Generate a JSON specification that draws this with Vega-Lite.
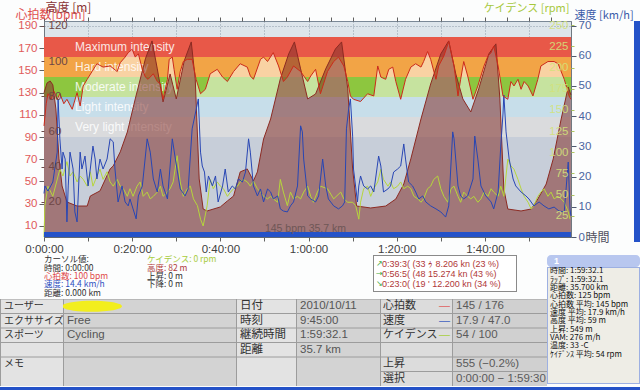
{
"$schema": "https://vega.github.io/schema/vega-lite/v6.json",
"background": "#fcfdfd",
"padding": 0,
"bounds": "full",
"spacing": 0,
"config": {"view": {"stroke": null}, "text": {"font": "Noto Sans CJK JP"}},
"resolve": {"scale": {"color": "independent"}},
"datasets": {
"one": [{}],
"zones": [{"zone":"Maximum intensity","lo":162,"hi":180},{"zone":"Hard intensity","lo":144,"hi":162},{"zone":"Moderate intensity","lo":126,"hi":144},{"zone":"Light intensity","lo":108,"hi":126},{"zone":"Very light intensity","lo":90,"hi":108},{"zone":"Resting","lo":0,"hi":90}],
"selection": [{"start":0,"end":119.5}],
"summary": [{"text":"145 bpm 35.7 km"}],
"alt": [{"t":0,"v":82},{"t":0.7,"v":87.6},{"t":1.4,"v":88.7},{"t":2.0,"v":86.5},{"t":2.7,"v":72.8},{"t":3.4,"v":44.4},{"t":4.1,"v":29.0},{"t":5.2,"v":19.9},{"t":7.5,"v":17.6},{"t":9.8,"v":17.6},{"t":10.5,"v":23.3},{"t":12.7,"v":26.2},{"t":15.0,"v":38.7},{"t":15.7,"v":40.4},{"t":17.3,"v":48.4},{"t":18.9,"v":59.7},{"t":20.7,"v":78.5},{"t":23.0,"v":101.3},{"t":24.5,"v":111.5},{"t":25.7,"v":95.6},{"t":27.0,"v":76.8},{"t":28.6,"v":92.7},{"t":30.0,"v":78.5},{"t":31.8,"v":100.1},{"t":33.4,"v":110.9},{"t":34.3,"v":89.9},{"t":35.2,"v":33.0},{"t":36.1,"v":15.9},{"t":37.0,"v":14.8},{"t":40.0,"v":17.1},{"t":41.6,"v":20.5},{"t":43.0,"v":23.3},{"t":44.5,"v":37.0},{"t":46.1,"v":38.7},{"t":47.5,"v":31.9},{"t":48.4,"v":37.0},{"t":49.8,"v":55.7},{"t":51.4,"v":67.1},{"t":53.6,"v":89.9},{"t":55.5,"v":104.1},{"t":56.8,"v":110.9},{"t":58.2,"v":95.6},{"t":59.8,"v":78.5},{"t":61.6,"v":81.3},{"t":63.9,"v":95.6},{"t":66.1,"v":106.9},{"t":67.5,"v":110.9},{"t":68.9,"v":84.2},{"t":70.0,"v":38.7},{"t":70.9,"v":17.6},{"t":74.1,"v":16.5},{"t":77.5,"v":17.6},{"t":79.8,"v":21.6},{"t":81.6,"v":30.1},{"t":83.2,"v":44.4},{"t":85.5,"v":67.1},{"t":87.7,"v":87.0},{"t":90.0,"v":104.1},{"t":91.8,"v":111.5},{"t":93.4,"v":92.7},{"t":95.0,"v":78.5},{"t":96.8,"v":71.1},{"t":98.6,"v":84.2},{"t":100.9,"v":104.1},{"t":102.5,"v":109.8},{"t":103.4,"v":78.5},{"t":104.3,"v":27.3},{"t":105.2,"v":15.9},{"t":108.2,"v":14.8},{"t":110.5,"v":15.9},{"t":112.0,"v":21.6},{"t":113.9,"v":30.1},{"t":115.5,"v":44.4},{"t":117.3,"v":67.1},{"t":118.9,"v":85.3},{"t":119.5,"v":80.8}],
"hr": [{"t":0,"v":100},{"t":0.5,"v":120},{"t":0.9,"v":129},{"t":1.6,"v":124},{"t":2.3,"v":131},{"t":3.0,"v":124},{"t":3.6,"v":129},{"t":4.5,"v":120},{"t":5.2,"v":124},{"t":6.4,"v":115},{"t":7.5,"v":130},{"t":8.2,"v":118},{"t":8.9,"v":136},{"t":9.8,"v":142},{"t":10.9,"v":149},{"t":12.0,"v":156},{"t":13.4,"v":153},{"t":15.0,"v":154},{"t":16.6,"v":149},{"t":17.3,"v":157},{"t":18.4,"v":162},{"t":19.1,"v":166},{"t":20.0,"v":169},{"t":20.7,"v":162},{"t":21.4,"v":165},{"t":22.3,"v":151},{"t":23.0,"v":144},{"t":23.6,"v":142},{"t":24.8,"v":147},{"t":25.7,"v":140},{"t":26.4,"v":138},{"t":27.0,"v":124},{"t":28.0,"v":142},{"t":28.4,"v":160},{"t":29.1,"v":162},{"t":29.5,"v":151},{"t":30.2,"v":133},{"t":30.9,"v":149},{"t":31.6,"v":158},{"t":32.5,"v":160},{"t":33.6,"v":160},{"t":34.5,"v":142},{"t":35.5,"v":129},{"t":36.6,"v":133},{"t":37.7,"v":147},{"t":39.3,"v":151},{"t":40.5,"v":144},{"t":41.6,"v":140},{"t":43.0,"v":149},{"t":44.5,"v":156},{"t":46.1,"v":153},{"t":46.8,"v":145},{"t":47.5,"v":142},{"t":49.1,"v":160},{"t":49.8,"v":162},{"t":50.7,"v":158},{"t":52.0,"v":166},{"t":53.2,"v":154},{"t":54.3,"v":140},{"t":55.2,"v":144},{"t":56.6,"v":154},{"t":58.2,"v":149},{"t":59.8,"v":140},{"t":60.5,"v":145},{"t":61.6,"v":151},{"t":62.7,"v":129},{"t":64.3,"v":149},{"t":65.7,"v":158},{"t":66.8,"v":162},{"t":68.0,"v":154},{"t":68.9,"v":140},{"t":69.5,"v":127},{"t":70.2,"v":124},{"t":71.8,"v":122},{"t":73.4,"v":129},{"t":74.8,"v":127},{"t":75.7,"v":154},{"t":76.4,"v":144},{"t":77.5,"v":142},{"t":78.2,"v":151},{"t":79.1,"v":153},{"t":79.8,"v":140},{"t":80.9,"v":124},{"t":82.0,"v":142},{"t":83.2,"v":153},{"t":84.3,"v":156},{"t":85.5,"v":153},{"t":86.1,"v":158},{"t":87.0,"v":167},{"t":87.7,"v":160},{"t":88.9,"v":142},{"t":89.5,"v":154},{"t":90.7,"v":163},{"t":91.8,"v":176},{"t":93.0,"v":154},{"t":93.9,"v":127},{"t":94.5,"v":142},{"t":95.2,"v":158},{"t":96.1,"v":145},{"t":97.3,"v":124},{"t":98.4,"v":136},{"t":99.8,"v":154},{"t":100.7,"v":163},{"t":101.4,"v":166},{"t":102.0,"v":172},{"t":103.0,"v":154},{"t":104.1,"v":127},{"t":105.2,"v":124},{"t":105.9,"v":140},{"t":106.6,"v":136},{"t":107.5,"v":142},{"t":108.2,"v":133},{"t":108.9,"v":140},{"t":109.8,"v":136},{"t":110.9,"v":127},{"t":112.0,"v":142},{"t":112.7,"v":154},{"t":114.3,"v":158},{"t":115.7,"v":158},{"t":116.6,"v":156},{"t":118.0,"v":142},{"t":119.1,"v":127},{"t":119.5,"v":124}],
"spd": [{"t":0,"v":14.4},{"t":0.2,"v":16.9},{"t":0.9,"v":15.2},{"t":2.0,"v":18.2},{"t":3.0,"v":28.1},{"t":3.2,"v":45.7},{"t":3.6,"v":32.5},{"t":4.1,"v":22.5},{"t":4.3,"v":28.1},{"t":4.8,"v":25.8},{"t":5.2,"v":5.0},{"t":5.5,"v":16.9},{"t":5.9,"v":28.1},{"t":6.6,"v":22.5},{"t":7.0,"v":8.3},{"t":7.5,"v":5.0},{"t":8.2,"v":28.1},{"t":8.6,"v":22.5},{"t":9.3,"v":26.8},{"t":10.0,"v":16.9},{"t":10.5,"v":22.5},{"t":11.1,"v":30.1},{"t":11.6,"v":25.8},{"t":12.0,"v":19.2},{"t":12.7,"v":25.8},{"t":13.4,"v":22.5},{"t":14.3,"v":25.8},{"t":15.0,"v":32.5},{"t":15.7,"v":31.5},{"t":16.1,"v":22.5},{"t":16.8,"v":11.6},{"t":17.7,"v":16.9},{"t":18.4,"v":11.6},{"t":19.1,"v":10.3},{"t":19.5,"v":12.6},{"t":20.2,"v":9.3},{"t":20.9,"v":6.0},{"t":21.4,"v":13.6},{"t":22.3,"v":16.9},{"t":23.4,"v":32.5},{"t":24.1,"v":28.1},{"t":24.8,"v":19.2},{"t":25.7,"v":14.9},{"t":26.4,"v":22.5},{"t":27.0,"v":16.9},{"t":28.0,"v":12.6},{"t":29.1,"v":32.5},{"t":29.8,"v":25.8},{"t":30.9,"v":15.9},{"t":32.0,"v":13.6},{"t":32.7,"v":15.9},{"t":33.6,"v":35.8},{"t":34.3,"v":40.7},{"t":35.0,"v":45.7},{"t":35.5,"v":28.1},{"t":35.9,"v":23.5},{"t":36.4,"v":21.5},{"t":36.8,"v":14.9},{"t":37.3,"v":20.2},{"t":38.2,"v":16.9},{"t":38.9,"v":20.2},{"t":39.5,"v":11.6},{"t":40.5,"v":16.9},{"t":41.1,"v":22.5},{"t":41.8,"v":14.9},{"t":42.7,"v":16.9},{"t":43.4,"v":15.9},{"t":44.1,"v":19.2},{"t":45.0,"v":18.2},{"t":45.7,"v":21.5},{"t":46.4,"v":32.5},{"t":46.8,"v":28.1},{"t":47.5,"v":16.9},{"t":48.4,"v":13.6},{"t":49.1,"v":15.9},{"t":49.8,"v":11.6},{"t":50.7,"v":15.9},{"t":51.4,"v":14.9},{"t":52.0,"v":12.6},{"t":53.0,"v":13.6},{"t":53.6,"v":9.3},{"t":54.3,"v":8.6},{"t":55.2,"v":8.3},{"t":55.9,"v":10.3},{"t":56.6,"v":11.6},{"t":57.5,"v":16.9},{"t":58.2,"v":36.8},{"t":58.6,"v":34.8},{"t":58.9,"v":25.8},{"t":59.8,"v":13.6},{"t":60.5,"v":12.6},{"t":61.6,"v":11.6},{"t":62.3,"v":13.6},{"t":63.2,"v":25.8},{"t":63.9,"v":16.9},{"t":64.5,"v":12.6},{"t":65.7,"v":10.3},{"t":66.8,"v":9.3},{"t":67.7,"v":10.3},{"t":68.2,"v":11.6},{"t":68.6,"v":35.8},{"t":69.1,"v":42.4},{"t":69.5,"v":45.7},{"t":70.0,"v":33.4},{"t":70.2,"v":22.5},{"t":71.1,"v":11.6},{"t":71.4,"v":16.9},{"t":71.8,"v":20.2},{"t":72.5,"v":16.9},{"t":73.4,"v":15.9},{"t":74.1,"v":16.9},{"t":74.8,"v":14.9},{"t":75.9,"v":26.8},{"t":76.4,"v":23.5},{"t":77.0,"v":14.9},{"t":78.0,"v":15.9},{"t":78.6,"v":16.9},{"t":79.3,"v":21.5},{"t":80.2,"v":22.5},{"t":80.9,"v":23.5},{"t":81.6,"v":30.8},{"t":82.0,"v":25.8},{"t":82.7,"v":18.2},{"t":83.6,"v":16.9},{"t":84.3,"v":14.9},{"t":85.0,"v":12.6},{"t":85.9,"v":13.6},{"t":86.6,"v":11.6},{"t":87.7,"v":10.3},{"t":88.9,"v":9.3},{"t":90.0,"v":8.3},{"t":91.1,"v":6.6},{"t":91.8,"v":10.3},{"t":92.7,"v":34.8},{"t":93.0,"v":32.5},{"t":93.9,"v":16.9},{"t":94.5,"v":13.6},{"t":95.2,"v":12.6},{"t":96.1,"v":13.6},{"t":97.3,"v":19.2},{"t":97.7,"v":33.4},{"t":98.4,"v":25.8},{"t":99.1,"v":16.9},{"t":100.2,"v":13.6},{"t":101.4,"v":11.6},{"t":102.0,"v":9.3},{"t":103.0,"v":14.9},{"t":103.6,"v":30.1},{"t":104.1,"v":40.7},{"t":104.3,"v":47.0},{"t":104.8,"v":34.8},{"t":105.5,"v":25.8},{"t":106.4,"v":19.2},{"t":107.0,"v":16.9},{"t":108.2,"v":14.9},{"t":109.3,"v":13.6},{"t":110.0,"v":12.6},{"t":111.1,"v":10.3},{"t":112.3,"v":11.6},{"t":113.4,"v":10.3},{"t":114.5,"v":9.3},{"t":115.7,"v":9.9},{"t":116.8,"v":8.6},{"t":118.0,"v":8.3},{"t":118.9,"v":24.8},{"t":119.3,"v":9.3},{"t":119.5,"v":7.0}],
"cad": [{"t":0,"v":0},{"t":0.2,"v":37},{"t":0.9,"v":60},{"t":2.0,"v":48},{"t":3.6,"v":80},{"t":4.3,"v":72},{"t":5.2,"v":89},{"t":5.9,"v":72},{"t":6.6,"v":77},{"t":7.5,"v":65},{"t":8.2,"v":72},{"t":8.9,"v":68},{"t":9.8,"v":60},{"t":10.5,"v":77},{"t":11.1,"v":60},{"t":12.0,"v":72},{"t":12.7,"v":80},{"t":13.4,"v":68},{"t":14.3,"v":77},{"t":15.0,"v":65},{"t":15.7,"v":60},{"t":16.6,"v":68},{"t":17.3,"v":60},{"t":18.0,"v":57},{"t":18.9,"v":48},{"t":19.5,"v":57},{"t":20.2,"v":48},{"t":21.1,"v":60},{"t":21.8,"v":65},{"t":22.5,"v":48},{"t":23.4,"v":53},{"t":24.1,"v":45},{"t":24.8,"v":48},{"t":25.7,"v":53},{"t":26.4,"v":60},{"t":27.0,"v":48},{"t":28.0,"v":53},{"t":28.6,"v":57},{"t":29.3,"v":65},{"t":30.2,"v":96},{"t":30.9,"v":65},{"t":31.6,"v":48},{"t":32.5,"v":57},{"t":33.2,"v":60},{"t":33.9,"v":45},{"t":34.8,"v":37},{"t":35.5,"v":21},{"t":36.1,"v":13},{"t":37.0,"v":37},{"t":37.7,"v":68},{"t":38.4,"v":57},{"t":39.3,"v":65},{"t":40.0,"v":60},{"t":40.7,"v":57},{"t":41.6,"v":48},{"t":42.3,"v":53},{"t":43.0,"v":57},{"t":43.9,"v":60},{"t":44.5,"v":65},{"t":45.2,"v":68},{"t":46.1,"v":65},{"t":46.8,"v":60},{"t":47.5,"v":66},{"t":48.4,"v":57},{"t":49.1,"v":53},{"t":49.8,"v":48},{"t":50.7,"v":45},{"t":51.4,"v":48},{"t":52.0,"v":45},{"t":53.0,"v":41},{"t":53.6,"v":68},{"t":54.3,"v":53},{"t":55.2,"v":37},{"t":55.9,"v":53},{"t":56.6,"v":45},{"t":57.5,"v":48},{"t":58.2,"v":45},{"t":58.9,"v":53},{"t":59.8,"v":60},{"t":60.5,"v":48},{"t":61.1,"v":41},{"t":62.0,"v":53},{"t":62.7,"v":60},{"t":64.3,"v":57},{"t":65.7,"v":45},{"t":67.3,"v":53},{"t":68.0,"v":45},{"t":68.9,"v":41},{"t":70.0,"v":41},{"t":70.7,"v":37},{"t":71.4,"v":21},{"t":71.8,"v":41},{"t":72.5,"v":57},{"t":73.4,"v":60},{"t":74.1,"v":48},{"t":74.8,"v":57},{"t":75.7,"v":65},{"t":76.4,"v":80},{"t":77.0,"v":68},{"t":78.0,"v":60},{"t":78.6,"v":65},{"t":79.3,"v":57},{"t":80.2,"v":60},{"t":80.9,"v":65},{"t":81.6,"v":57},{"t":82.5,"v":60},{"t":83.2,"v":57},{"t":83.9,"v":48},{"t":84.8,"v":45},{"t":85.5,"v":41},{"t":86.1,"v":45},{"t":87.0,"v":57},{"t":87.7,"v":60},{"t":88.4,"v":68},{"t":89.3,"v":72},{"t":90.0,"v":57},{"t":90.7,"v":48},{"t":91.6,"v":41},{"t":92.3,"v":57},{"t":93.0,"v":60},{"t":93.9,"v":48},{"t":94.5,"v":41},{"t":95.2,"v":53},{"t":96.1,"v":48},{"t":96.8,"v":45},{"t":97.5,"v":48},{"t":98.4,"v":41},{"t":99.1,"v":45},{"t":99.8,"v":53},{"t":100.7,"v":48},{"t":101.4,"v":57},{"t":102.0,"v":53},{"t":103.0,"v":48},{"t":103.6,"v":60},{"t":104.3,"v":48},{"t":105.2,"v":92},{"t":105.9,"v":84},{"t":106.6,"v":80},{"t":107.5,"v":68},{"t":108.2,"v":57},{"t":108.9,"v":48},{"t":109.8,"v":41},{"t":110.5,"v":33},{"t":111.1,"v":37},{"t":112.0,"v":48},{"t":112.7,"v":53},{"t":113.4,"v":57},{"t":114.3,"v":48},{"t":115.0,"v":53},{"t":115.7,"v":45},{"t":116.6,"v":48},{"t":117.3,"v":45},{"t":118.0,"v":41},{"t":118.9,"v":30},{"t":119.3,"v":21}],
"cursor": [{"c":"a","l":1,"text":"カーソル値:","s":"plain"},{"c":"a","l":2,"text":"時間: 0:00:00","s":"plain"},{"c":"a","l":3,"text":"心拍数: 100 bpm","s":"hr"},{"c":"a","l":4,"text":"速度: 14.4 km/h","s":"speed"},{"c":"a","l":5,"text":"距離: 0.000 km","s":"plain"},{"c":"b","l":1,"text":"ケイデンス: 0 rpm","s":"cadence"},{"c":"b","l":2,"text":"高度: 82 m","s":"altitude"},{"c":"b","l":3,"text":"上昇: 0 m","s":"plain"},{"c":"b","l":4,"text":"下降: 0 m","s":"plain"}],
"laps": [{"c":"a","l":1,"dir":"↗","text":"0:39:3( (33 ｩ 8.206 kn (23 %)"},{"c":"a","l":2,"dir":"→","text":"0:56:5( (48  15.274 kn (43 %)"},{"c":"a","l":3,"dir":"↘","text":"0:23:0( (19 ' 12.200 kn (34 %)"}],
"table": [{"col":"A","row":1,"text":"ユーザー"},{"col":"A","row":2,"text":"エクササイズ"},{"col":"A","row":3,"text":"スポーツ"},{"col":"A","row":5,"text":"メモ"},{"col":"B","row":1,"text":""},{"col":"B","row":2,"text":"Free"},{"col":"B","row":3,"text":"Cycling"},{"col":"C","row":1,"text":"日付"},{"col":"C","row":2,"text":"時刻"},{"col":"C","row":3,"text":"継続時間"},{"col":"C","row":4,"text":"距離"},{"col":"D","row":1,"text":"2010/10/11"},{"col":"D","row":2,"text":"9:45:00"},{"col":"D","row":3,"text":"1:59:32.1"},{"col":"D","row":4,"text":"35.7 km"},{"col":"E","row":1,"text":"心拍数"},{"col":"E","row":2,"text":"速度"},{"col":"E","row":3,"text":"ケイデンス"},{"col":"E","row":5,"text":"上昇"},{"col":"E","row":6,"text":"選択"},{"col":"F","row":1,"text":"—","s":"hr"},{"col":"F","row":2,"text":"—","s":"speed"},{"col":"F","row":3,"text":"—","s":"cadence"},{"col":"G","row":1,"text":"145 / 176"},{"col":"G","row":2,"text":"17.9 / 47.0"},{"col":"G","row":3,"text":"54 / 100"},{"col":"G","row":5,"text":"555 (−0.2%)"},{"col":"G","row":6,"text":"0:00:00 − 1:59:30 ("}],
"seps": [{"row":1},{"row":2},{"row":3},{"row":4},{"row":5},{"row":6}],
"tiptitle": [{"c":"a","text":"1"}],
"tip": [{"c":"a","l":1,"text":"時間: 1:59:32.1"},{"c":"a","l":2,"text":"ﾗｯﾌﾟ: 1:59:32.1"},{"c":"a","l":3,"text":"距離:  35.700 km"},{"c":"a","l":4,"text":"心拍数: 125 bpm"},{"c":"a","l":5,"text":"心拍数 平均:  145 bpm"},{"c":"a","l":6,"text":"速度 平均:  17.9 km/h"},{"c":"a","l":7,"text":"高度 平均:  59 m"},{"c":"a","l":8,"text":"上昇:  549 m"},{"c":"a","l":9,"text":"VAM:  276 m/h"},{"c":"a","l":10,"text":"温度:  33 -C"},{"c":"a","l":11,"text":"ｹｲﾃﾞﾝｽ 平均:  54 rpm"}]
},
"vconcat": [
{"hconcat": [
  {"data":{"name":"one"},"width":44,"height":216,"mark":{"type":"point","opacity":0},"encoding":{}},
  {"width":527,"height":216,
   "view":{"fill":"#dde5eb","stroke":"#7a8896"},
   "layer":[
    {"data":{"name":"zones"},"mark":{"type":"rect"},"encoding":{
      "y":{"field":"lo","type":"quantitative","scale":{"domain":[0,194.5],"nice":false},"axis":null},
      "y2":{"field":"hi"},
      "color":{"field":"zone","type":"nominal","legend":null,"scale":{"domain":["Maximum intensity","Hard intensity","Moderate intensity","Light intensity","Very light intensity","Resting"],"range":["#e85848","#f2a446","#8dc63f","#8fbcd4","#b4b6ba","#8e9db2"]}}}},
    {"data":{"name":"zones"},"transform":[{"filter":"datum.zone !== 'Resting'"}],
     "mark":{"type":"text","align":"left","baseline":"middle","dy":10,"font":"Liberation Sans","fontSize":12,"color":"#ffffff","opacity":0.85},
     "encoding":{"x":{"datum":7.05,"type":"quantitative","axis":null},
      "y":{"field":"hi","type":"quantitative","scale":{"domain":[0,194.5],"nice":false},"axis":null},
      "text":{"field":"zone"}}},
    {"data":{"name":"hr"},"mark":{"type":"area","color":"#ffffff","opacity":0.5},"encoding":{
      "x":{"field":"t","type":"quantitative","scale":{"domain":[0,119.53],"nice":false,"zero":false},
        "axis":{"values":[0,10,20,30,40,50,60,70,80,90,100,110],"labelExpr":"datum.value % 20 === 0 ? floor(datum.value / 60) + ':' + (datum.value % 60 < 10 ? '0' : '') + (datum.value % 60) + ':00' : ''","grid":true,"gridColor":"#7a8a9a","gridDash":[1,2],"gridOpacity":0.8,"tickSize":4,"tickColor":"#606060","domainColor":"#606870","labelFont":"Liberation Sans","labelFontSize":11.5,"labelColor":"#404040","labelPadding":2,"labelFlush":false,"labelOverlap":false,"title":"時間","titleFont":"Noto Sans CJK JP","titleFontSize":12,"titleFontWeight":"normal","titleColor":"#505060","titleAlign":"left","titleBaseline":"middle","titleAngle":0,"titleX":541,"titleY":0}},
      "y":{"field":"v","type":"quantitative","scale":{"domain":[0,194.5],"nice":false},
        "axis":{"orient":"left","values":[10,30,50,70,90,110,130,150,170,190],"labelColor":"#e05a5a","labelFont":"Liberation Sans","labelFontSize":11.5,"labelPadding":2,"tickSize":5,"tickColor":"#606060","domainColor":"#707880","labelOverlap":false,"grid":true,"gridColor":"#7a8a9a","gridDash":[1,2],"gridOpacity":0.8,"title":"心拍数[bpm]","titleColor":"#e05050","titleFont":"Noto Sans CJK JP","titleFontSize":12,"titleFontWeight":"normal","titleAngle":0,"titleAlign":"left","titleBaseline":"alphabetic","titleX":-29,"titleY":-3}}}},
    {"data":{"name":"alt"},"mark":{"type":"area","color":"#82302a","opacity":0.55},"encoding":{
      "x":{"field":"t","type":"quantitative","axis":null},
      "y":{"field":"v","type":"quantitative","scale":{"domain":[0,122.8],"nice":false},
        "axis":{"orient":"left","zindex":1,"values":[20,40,60,80,100,120],"labelAlign":"left","labelPadding":-7,"tickSize":3,"tickColor":"#6a4a4a","labelColor":"#6e4646","labelFont":"Liberation Sans","labelFontSize":11.5,"domain":false,"grid":false,"labelOverlap":false,"title":"高度 [m]","titleColor":"#8a3434","titleFont":"Noto Sans CJK JP","titleFontSize":12,"titleFontWeight":"normal","titleAngle":0,"titleAlign":"left","titleBaseline":"alphabetic","titleX":1,"titleY":-10}}}},
    {"data":{"name":"alt"},"mark":{"type":"line","color":"#8c2a22","strokeWidth":1},"encoding":{
      "x":{"field":"t","type":"quantitative","axis":null},
      "y":{"field":"v","type":"quantitative","scale":{"domain":[0,122.8],"nice":false},"axis":null}}},
    {"data":{"name":"cad"},"mark":{"type":"line","color":"#b6d63c","strokeWidth":1},"encoding":{
      "x":{"field":"t","type":"quantitative","axis":null},
      "y":{"field":"v","type":"quantitative","scale":{"domain":[0,255],"nice":false},
        "axis":{"orient":"right","zindex":1,"values":[25,50,75,100,125,150,175,200,225,250],"labelAlign":"right","labelPadding":-6,"tickSize":3,"tickColor":"#b0c860","labelColor":"#d2e27a","labelOpacity":0.9,"labelFont":"Liberation Sans","labelFontSize":11.5,"domain":false,"grid":false,"labelOverlap":false,"title":"ケイデンス [rpm]","titleColor":"#a6c83c","titleFont":"Noto Sans CJK JP","titleFontSize":11,"titleFontWeight":"normal","titleAngle":0,"titleAlign":"right","titleBaseline":"alphabetic","titleX":-2,"titleY":-10}}}},
    {"data":{"name":"spd"},"mark":{"type":"line","color":"#2846b4","strokeWidth":1},"encoding":{
      "x":{"field":"t","type":"quantitative","axis":null},
      "y":{"field":"v","type":"quantitative","scale":{"domain":[0,71.5],"nice":false},
        "axis":{"orient":"right","values":[0,10,20,30,40,50,60,70],"tickSize":5,"labelPadding":2,"tickColor":"#505a70","labelColor":"#4a64a0","labelFont":"Liberation Sans","labelFontSize":11.5,"domainColor":"#707880","grid":false,"labelOverlap":false,"title":"速度 [km/h]","titleColor":"#3a5aa8","titleFont":"Noto Sans CJK JP","titleFontSize":11,"titleFontWeight":"normal","titleAngle":0,"titleAlign":"left","titleBaseline":"alphabetic","titleX":3,"titleY":-3}}}},
    {"data":{"name":"hr"},"mark":{"type":"line","color":"#cc2a1a","strokeWidth":1},"encoding":{
      "x":{"field":"t","type":"quantitative","axis":{"values":[0,5,10,15,20,25,30,35,40,45,50,55,60,65,70,75,80,85,90,95,100,105,110,115],"labels":false,"grid":false,"domain":false,"tickSize":4,"tickColor":"#606060","title":null}},
      "y":{"field":"v","type":"quantitative","scale":{"domain":[0,194.5],"nice":false},"axis":null}}},
    {"data":{"name":"selection"},"mark":{"type":"rect","color":"#2452c8"},"encoding":{
      "x":{"field":"start","type":"quantitative","axis":null},"x2":{"field":"end"},
      "y":{"datum":0,"type":"quantitative","scale":{"domain":[0,194.5],"nice":false},"axis":null},"y2":{"datum":4.5}}},
    {"data":{"name":"summary"},"mark":{"type":"text","font":"Liberation Sans","fontSize":10.5,"color":"#6e5656","align":"center","baseline":"middle"},"encoding":{
      "x":{"datum":59.3,"type":"quantitative","axis":null},
      "y":{"datum":7.2,"type":"quantitative","scale":{"domain":[0,194.5],"nice":false},"axis":null},
      "text":{"field":"text"}}}
   ],
   "resolve":{"scale":{"y":"independent"},"axis":{"x":"independent","y":"independent"}}
  },
  {"data":{"name":"one"},"width":63,"height":216,"mark":{"type":"point","opacity":0},"encoding":{}},
  {"data":{"name":"one"},"width":6,"height":221,"view":{"fill":"#2452c8"},"mark":{"type":"point","opacity":0},"encoding":{}}
 ],"spacing":0,"bounds":"flush","resolve":{"scale":{"color":"independent"}}},
{"vconcat": [
 {"hconcat": [
  {"vconcat": [
    {"hconcat": [
      {"data":{"name":"one"},"width":44,"height":42,"mark":{"type":"point","opacity":0},"encoding":{}},
      {"data":{"name":"cursor"},"width":206,"height":42,
       "mark":{"type":"text","align":"left","baseline":"middle","font":"Noto Sans CJK JP","fontSize":8.5,"clip":true},
       "encoding":{
        "x":{"field":"c","type":"nominal","axis":null,"bandPosition":0,"scale":{"type":"band","domain":["a","b"],"paddingInner":0,"paddingOuter":0}},
        "y":{"field":"l","type":"ordinal","axis":null,"scale":{"type":"band","domain":[1,2,3,4,5],"paddingInner":0,"paddingOuter":0.03}},
        "text":{"field":"text"},
        "color":{"field":"s","type":"nominal","legend":null,"scale":{"domain":["plain","hr","speed","cadence","altitude"],"range":["#303030","#e04848","#3050c0","#a8cc40","#b03a3a"]}}}},
      {"data":{"name":"one"},"width":123,"height":42,"mark":{"type":"point","opacity":0},"encoding":{}},
      {"vconcat": [
        {"data":{"name":"laps"},"width":144,"height":37,"view":{"fill":"#ffffff"},
         "layer":[
          {"mark":{"type":"rect","filled":false,"color":"#8a8a8a","strokeWidth":2,"clip":true},
           "encoding":{"x":{"field":"c","type":"nominal","axis":null,"scale":{"type":"band","paddingInner":0,"paddingOuter":0}}}},
          {"mark":{"type":"text","align":"left","baseline":"middle","font":"DejaVu Sans","fontSize":8,"color":"#3caa3c","dx":3,"clip":true},
           "encoding":{"x":{"field":"c","type":"nominal","axis":null,"bandPosition":0,"scale":{"type":"band","paddingInner":0,"paddingOuter":0}},
            "y":{"field":"l","type":"ordinal","axis":null,"scale":{"type":"band","domain":[1,2,3],"paddingInner":0,"paddingOuter":0.35,"align":0.57}},
            "text":{"field":"dir"}}},
          {"mark":{"type":"text","align":"left","baseline":"middle","font":"Liberation Sans","fontSize":9,"color":"#b03838","dx":9,"clip":true},
           "encoding":{"x":{"field":"c","type":"nominal","axis":null,"bandPosition":0,"scale":{"type":"band","paddingInner":0,"paddingOuter":0}},
            "y":{"field":"l","type":"ordinal","axis":null,"scale":{"type":"band","domain":[1,2,3],"paddingInner":0,"paddingOuter":0.35,"align":0.57}},
            "text":{"field":"text"}}}
         ]},
        {"data":{"name":"one"},"width":144,"height":5,"mark":{"type":"point","opacity":0},"encoding":{}}
      ],"spacing":0,"bounds":"full"},
      {"data":{"name":"one"},"width":30,"height":42,"mark":{"type":"point","opacity":0},"encoding":{}}
    ],"spacing":0,"bounds":"full","resolve":{"scale":{"color":"independent"}}},
    {"hconcat": [
      {"width":63,"height":87,"view":{"fill":"#e3e3e3"},"layer":[
        {"data":{"name":"seps"},"transform":[{"filter":"datum.row < 6"}],"mark":{"type":"rule","color":"#9c9c9c","clip":true},"encoding":{"y":{"field":"row","type":"ordinal","bandPosition":0,"axis":null,"scale":{"type":"band","domain":[1,2,3,4,5,6],"paddingInner":0,"paddingOuter":0}}}},
        {"data":{"name":"table"},"transform":[{"filter":"datum.col === 'A'"}],"mark":{"type":"rule","color":"#9c9c9c","strokeWidth":2,"clip":true},"encoding":{"x":{"field":"col","type":"nominal","axis":null,"bandPosition":0,"scale":{"type":"band","paddingInner":0,"paddingOuter":0}}}},
        {"data":{"name":"table"},"transform":[{"filter":"datum.col === 'A'"}],"mark":{"type":"text","align":"left","baseline":"middle","dx":4,"font":"Noto Sans CJK JP","fontSize":10,"color":"#333333","clip":true},
         "encoding":{"x":{"field":"col","type":"nominal","axis":null,"bandPosition":0,"scale":{"type":"band","paddingInner":0,"paddingOuter":0}},"y":{"field":"row","type":"ordinal","axis":null,"scale":{"type":"band","domain":[1,2,3,4,5,6],"paddingInner":0,"paddingOuter":0}},"text":{"field":"text"}}}]},
      {"width":173,"height":87,"view":{"fill":"#d3d3d3"},"layer":[
        {"data":{"name":"seps"},"transform":[{"filter":"datum.row < 6"}],"mark":{"type":"rule","color":"#9c9c9c","clip":true},"encoding":{"y":{"field":"row","type":"ordinal","bandPosition":0,"axis":null,"scale":{"type":"band","domain":[1,2,3,4,5,6],"paddingInner":0,"paddingOuter":0}}}},
        {"data":{"name":"table"},"transform":[{"filter":"datum.col === 'B'"}],"mark":{"type":"rule","color":"#9c9c9c","strokeWidth":2,"clip":true},"encoding":{"x":{"field":"col","type":"nominal","axis":null,"bandPosition":0,"scale":{"type":"band","paddingInner":0,"paddingOuter":0}}}},
        {"data":{"name":"table"},"transform":[{"filter":"datum.col === 'B' && datum.row === 1"}],"mark":{"type":"point","filled":true,"color":"#f2ee1e","opacity":1,"size":10000,"clip":true,"shape":"M-1.75,0A0.6,0.11,0,1,0,-0.55,0A0.6,0.11,0,1,0,-1.75,0Z"},
         "encoding":{"x":{"field":"col","type":"nominal","axis":null,"bandPosition":0.5,"scale":{"type":"band","paddingInner":0,"paddingOuter":0}},"y":{"field":"row","type":"ordinal","axis":null,"scale":{"type":"band","domain":[1,2,3,4,5,6],"paddingInner":0,"paddingOuter":0}}}},
        {"data":{"name":"table"},"transform":[{"filter":"datum.col === 'B'"}],"mark":{"type":"text","align":"left","baseline":"middle","dx":4,"font":"Liberation Sans","fontSize":11.5,"color":"#555555","clip":true},
         "encoding":{"x":{"field":"col","type":"nominal","axis":null,"bandPosition":0,"scale":{"type":"band","paddingInner":0,"paddingOuter":0}},"y":{"field":"row","type":"ordinal","axis":null,"scale":{"type":"band","domain":[1,2,3,4,5,6],"paddingInner":0,"paddingOuter":0}},"text":{"field":"text"}}}]},
      {"width":60,"height":87,"view":{"fill":"#e3e3e3"},"layer":[
        {"data":{"name":"seps"},"transform":[{"filter":"datum.row < 6"}],"mark":{"type":"rule","color":"#9c9c9c","clip":true},"encoding":{"y":{"field":"row","type":"ordinal","bandPosition":0,"axis":null,"scale":{"type":"band","domain":[1,2,3,4,5,6],"paddingInner":0,"paddingOuter":0}}}},
        {"data":{"name":"table"},"transform":[{"filter":"datum.col === 'C'"}],"mark":{"type":"rule","color":"#9c9c9c","strokeWidth":2,"clip":true},"encoding":{"x":{"field":"col","type":"nominal","axis":null,"bandPosition":0,"scale":{"type":"band","paddingInner":0,"paddingOuter":0}}}},
        {"data":{"name":"table"},"transform":[{"filter":"datum.col === 'C'"}],"mark":{"type":"text","align":"left","baseline":"middle","dx":4,"font":"Noto Sans CJK JP","fontSize":11.5,"color":"#333333","clip":true},
         "encoding":{"x":{"field":"col","type":"nominal","axis":null,"bandPosition":0,"scale":{"type":"band","paddingInner":0,"paddingOuter":0}},"y":{"field":"row","type":"ordinal","axis":null,"scale":{"type":"band","domain":[1,2,3,4,5,6],"paddingInner":0,"paddingOuter":0}},"text":{"field":"text"}}}]},
      {"width":84,"height":87,"view":{"fill":"#d3d3d3"},"layer":[
        {"data":{"name":"seps"},"transform":[{"filter":"datum.row < 6"}],"mark":{"type":"rule","color":"#9c9c9c","clip":true},"encoding":{"y":{"field":"row","type":"ordinal","bandPosition":0,"axis":null,"scale":{"type":"band","domain":[1,2,3,4,5,6],"paddingInner":0,"paddingOuter":0}}}},
        {"data":{"name":"table"},"transform":[{"filter":"datum.col === 'D'"}],"mark":{"type":"rule","color":"#9c9c9c","strokeWidth":2,"clip":true},"encoding":{"x":{"field":"col","type":"nominal","axis":null,"bandPosition":0,"scale":{"type":"band","paddingInner":0,"paddingOuter":0}}}},
        {"data":{"name":"table"},"transform":[{"filter":"datum.col === 'D'"}],"mark":{"type":"text","align":"left","baseline":"middle","dx":4,"font":"Liberation Sans","fontSize":11.5,"color":"#555555","clip":true},
         "encoding":{"x":{"field":"col","type":"nominal","axis":null,"bandPosition":0,"scale":{"type":"band","paddingInner":0,"paddingOuter":0}},"y":{"field":"row","type":"ordinal","axis":null,"scale":{"type":"band","domain":[1,2,3,4,5,6],"paddingInner":0,"paddingOuter":0}},"text":{"field":"text"}}}]},
      {"width":57,"height":87,"view":{"fill":"#dcdcdc"},"layer":[
        {"data":{"name":"seps"},"mark":{"type":"rule","color":"#9c9c9c","clip":true},"encoding":{"y":{"field":"row","type":"ordinal","bandPosition":0,"axis":null,"scale":{"type":"band","domain":[1,2,3,4,5,6],"paddingInner":0,"paddingOuter":0}}}},
        {"data":{"name":"table"},"transform":[{"filter":"datum.col === 'E'"}],"mark":{"type":"rule","color":"#9c9c9c","strokeWidth":2,"clip":true},"encoding":{"x":{"field":"col","type":"nominal","axis":null,"bandPosition":0,"scale":{"type":"band","paddingInner":0,"paddingOuter":0}}}},
        {"data":{"name":"table"},"transform":[{"filter":"datum.col === 'E'"}],"mark":{"type":"text","align":"left","baseline":"middle","dx":3,"font":"Noto Sans CJK JP","fontSize":11,"color":"#333333","clip":true},
         "encoding":{"x":{"field":"col","type":"nominal","axis":null,"bandPosition":0,"scale":{"type":"band","paddingInner":0,"paddingOuter":0}},"y":{"field":"row","type":"ordinal","axis":null,"scale":{"type":"band","domain":[1,2,3,4,5,6],"paddingInner":0,"paddingOuter":0}},"text":{"field":"text"}}}]},
      {"width":15,"height":87,"view":{"fill":"#dcdcdc"},"layer":[
        {"data":{"name":"seps"},"mark":{"type":"rule","color":"#9c9c9c","clip":true},"encoding":{"y":{"field":"row","type":"ordinal","bandPosition":0,"axis":null,"scale":{"type":"band","domain":[1,2,3,4,5,6],"paddingInner":0,"paddingOuter":0}}}},
        {"data":{"name":"table"},"transform":[{"filter":"datum.col === 'F'"}],"mark":{"type":"text","align":"center","baseline":"middle","font":"Liberation Sans","fontSize":11,"clip":true},
         "encoding":{"x":{"field":"col","type":"nominal","axis":null,"scale":{"type":"band","paddingInner":0,"paddingOuter":0}},"y":{"field":"row","type":"ordinal","axis":null,"scale":{"type":"band","domain":[1,2,3,4,5,6],"paddingInner":0,"paddingOuter":0}},"text":{"field":"text"},
          "color":{"field":"s","type":"nominal","legend":null,"scale":{"domain":["hr","speed","cadence"],"range":["#e06060","#4060c0","#a8d040"]}}}}]},
      {"width":95,"height":87,"view":{"fill":"#d0d0d0"},"layer":[
        {"data":{"name":"seps"},"mark":{"type":"rule","color":"#9c9c9c","clip":true},"encoding":{"y":{"field":"row","type":"ordinal","bandPosition":0,"axis":null,"scale":{"type":"band","domain":[1,2,3,4,5,6],"paddingInner":0,"paddingOuter":0}}}},
        {"data":{"name":"table"},"transform":[{"filter":"datum.col === 'G'"}],"mark":{"type":"rule","color":"#9c9c9c","strokeWidth":2,"clip":true},"encoding":{"x":{"field":"col","type":"nominal","axis":null,"bandPosition":0,"scale":{"type":"band","paddingInner":0,"paddingOuter":0}}}},
        {"data":{"name":"table"},"transform":[{"filter":"datum.col === 'G'"}],"mark":{"type":"text","align":"left","baseline":"middle","dx":4,"font":"Liberation Sans","fontSize":11.5,"color":"#5a5a5a","clip":true},
         "encoding":{"x":{"field":"col","type":"nominal","axis":null,"bandPosition":0,"scale":{"type":"band","paddingInner":0,"paddingOuter":0}},"y":{"field":"row","type":"ordinal","axis":null,"scale":{"type":"band","domain":[1,2,3,4,5,6],"paddingInner":0,"paddingOuter":0}},"text":{"field":"text"}}}]}
    ],"spacing":0,"bounds":"full","resolve":{"scale":{"color":"independent"}}}
  ],"spacing":0,"bounds":"full","resolve":{"scale":{"color":"independent"}}},
  {"vconcat": [
    {"data":{"name":"tiptitle"},"width":93,"height":12,"view":{"fill":"#b8c7ef","cornerRadius":4},
     "mark":{"type":"text","align":"left","baseline":"middle","dx":7,"font":"Liberation Sans","fontSize":9,"fontWeight":"bold","color":"#ffffff","clip":true},
     "encoding":{"x":{"field":"c","type":"nominal","axis":null,"bandPosition":0,"scale":{"type":"band","paddingInner":0,"paddingOuter":0}},"text":{"field":"text"}}},
    {"data":{"name":"tip"},"width":93,"height":117,"view":{"fill":"#eeede6"},
     "layer":[
      {"mark":{"type":"rect","filled":false,"color":"#9db0e2","strokeWidth":2,"clip":true},
       "encoding":{"x":{"field":"c","type":"nominal","axis":null,"scale":{"type":"band","paddingInner":0,"paddingOuter":0}}}},
      {"mark":{"type":"text","align":"left","baseline":"middle","dx":3,"font":"Noto Sans CJK JP","fontSize":8,"color":"#111111","clip":true},
       "encoding":{"x":{"field":"c","type":"nominal","axis":null,"bandPosition":0,"scale":{"type":"band","paddingInner":0,"paddingOuter":0}},
        "y":{"field":"l","type":"ordinal","axis":null,"scale":{"type":"band","domain":[1,2,3,4,5,6,7,8,9,10,11,12,13,14],"paddingInner":0,"paddingOuter":0}},
        "text":{"field":"text"}}}]}
  ],"spacing":0,"bounds":"full"}
 ],"spacing":0,"bounds":"full","resolve":{"scale":{"color":"independent"}}},
 {"data":{"name":"one"},"width":640,"height":4,"view":{"fill":"#2452c8"},"mark":{"type":"point","opacity":0},"encoding":{}}
],"spacing":0,"bounds":"full","resolve":{"scale":{"color":"independent"}}}
]
}
